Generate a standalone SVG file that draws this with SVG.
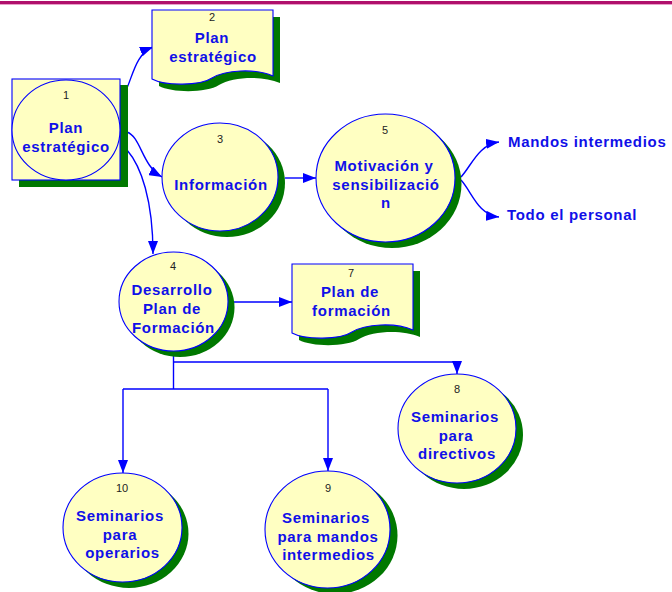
<svg xmlns="http://www.w3.org/2000/svg" width="672" height="592" viewBox="0 0 672 592">
<style>
.box{fill:#FFFFC2;stroke:#0000FF;stroke-width:1.1}
.sh{fill:#007800}
.num{font-family:"Liberation Sans",Arial,sans-serif;font-size:11px;fill:#222;text-anchor:middle}
.lbl{font-family:"Liberation Sans",Arial,sans-serif;font-weight:bold;font-size:15px;letter-spacing:0.7px;fill:#1010E8;text-anchor:middle}
.ext{font-family:"Liberation Sans",Arial,sans-serif;font-weight:bold;font-size:15px;letter-spacing:0.7px;fill:#1010E8;text-anchor:start}
.conn{fill:none;stroke:#0000FF;stroke-width:1.4}
</style>
<defs>
<marker id="arr" markerUnits="userSpaceOnUse" markerWidth="13" markerHeight="10" refX="13" refY="5" orient="auto">
<path d="M0,0 L13,5 L0,10 Z" fill="#0000FF"/>
</marker>
<path id="doc" d="M0,0 H121 V66 C103,58 73,60 60,68 C48,76 13,76 0,69 Z"/>
</defs>
<rect x="0" y="1" width="672" height="3" fill="#B0106C"/>
<rect x="0" y="4" width="672" height="1" fill="#E8A0C8"/>

<g id="connectors">
<path class="conn" d="M127,88 C133,74 137,53 153,47" marker-end="url(#arr)"/>
<path class="conn" d="M127,132 C141,137 142,166 162,177" marker-end="url(#arr)"/>
<path class="conn" d="M127,150 C141,166 153,200 153,254" marker-end="url(#arr)"/>
<path class="conn" d="M285,178 H316" marker-end="url(#arr)"/>
<path class="conn" d="M461,177 C472,165 478,145 499,142" marker-end="url(#arr)"/>
<path class="conn" d="M461,180 C472,192 478,215 499,217" marker-end="url(#arr)"/>
<path class="conn" d="M234,302 H292" marker-end="url(#arr)"/>
<path class="conn" d="M173.5,351 V389"/>
<path class="conn" d="M173.5,362 H457 V374" marker-end="url(#arr)"/>
<path class="conn" d="M123,389 H328"/>
<path class="conn" d="M123,389 V473" marker-end="url(#arr)"/>
<path class="conn" d="M328,389 V471" marker-end="url(#arr)"/>
</g>

<g id="node1">
<rect class="sh" x="19" y="85" width="109" height="102"/>
<rect class="box" x="12" y="79" width="108" height="101"/>
<ellipse class="box" cx="66" cy="130" rx="54" ry="50"/>
<text class="num" x="66" y="99">1</text>
<text class="lbl" x="66" y="133">Plan</text>
<text class="lbl" x="66" y="152">estratégico</text>
</g>

<g id="node2">
<use href="#doc" class="sh" transform="translate(159,17)"/>
<use href="#doc" class="box" transform="translate(152,10)"/>
<text class="num" x="212" y="21">2</text>
<text class="lbl" x="212" y="43">Plan</text>
<text class="lbl" x="213" y="62">estratégico</text>
</g>

<g id="node3">
<ellipse class="sh" cx="227" cy="183" rx="58" ry="54"/>
<ellipse class="box" cx="220" cy="177" rx="58" ry="54"/>
<text class="num" x="220" y="143">3</text>
<text class="lbl" x="221" y="190">Información</text>
</g>

<g id="node5">
<ellipse class="sh" cx="392" cy="184" rx="69.5" ry="64"/>
<ellipse class="box" cx="385.5" cy="178" rx="69.5" ry="64"/>
<text class="num" x="385" y="134">5</text>
<text class="lbl" x="384" y="171">Motivación y</text>
<text class="lbl" x="386" y="189.5">sensibilizació</text>
<text class="lbl" x="386" y="208">n</text>
</g>

<g id="mandos">
<text class="ext" x="508" y="147">Mandos intermedios</text>
</g>
<g id="todo">
<text class="ext" x="507" y="220">Todo el personal</text>
</g>

<g id="node4">
<ellipse class="sh" cx="180" cy="307.5" rx="54.5" ry="49.5"/>
<ellipse class="box" cx="173.5" cy="301.5" rx="54.5" ry="49.5"/>
<text class="num" x="173" y="270">4</text>
<text class="lbl" x="172" y="295">Desarrollo</text>
<text class="lbl" x="172" y="314">Plan de</text>
<text class="lbl" x="173.5" y="333">Formación</text>
</g>

<g id="node7">
<use href="#doc" class="sh" transform="translate(299,271)"/>
<use href="#doc" class="box" transform="translate(292,264)"/>
<text class="num" x="351" y="277">7</text>
<text class="lbl" x="350" y="297">Plan de</text>
<text class="lbl" x="351.5" y="316">formación</text>
</g>

<g id="node8">
<ellipse class="sh" cx="464" cy="434.5" rx="59" ry="54.5"/>
<ellipse class="box" cx="457" cy="428.5" rx="59" ry="54.5"/>
<text class="num" x="457" y="393">8</text>
<text class="lbl" x="455" y="422">Seminarios</text>
<text class="lbl" x="456" y="440.5">para</text>
<text class="lbl" x="457" y="459">directivos</text>
</g>

<g id="node10">
<ellipse class="sh" cx="129" cy="533.5" rx="59.5" ry="54.5"/>
<ellipse class="box" cx="122.5" cy="527.5" rx="59.5" ry="54.5"/>
<text class="num" x="122" y="492">10</text>
<text class="lbl" x="120" y="521">Seminarios</text>
<text class="lbl" x="120" y="539.5">para</text>
<text class="lbl" x="122.5" y="558">operarios</text>
</g>

<g id="node9">
<ellipse class="sh" cx="335" cy="535.5" rx="62.5" ry="58.5"/>
<ellipse class="box" cx="327.5" cy="529.5" rx="62.5" ry="58.5"/>
<text class="num" x="328" y="492">9</text>
<text class="lbl" x="326" y="523">Seminarios</text>
<text class="lbl" x="328" y="541.5">para mandos</text>
<text class="lbl" x="328.5" y="560">intermedios</text>
</g>
</svg>
